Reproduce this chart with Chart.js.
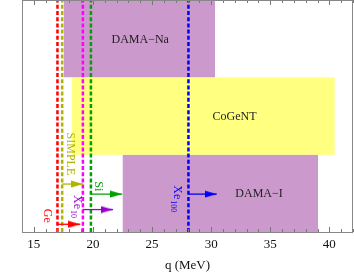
<!DOCTYPE html>
<html>
<head>
<meta charset="utf-8">
<script src="https://cdn.jsdelivr.net/npm/chart.js@4"></script>
<style>
  html, body { margin: 0; padding: 0; background: #fff; }
  #wrap { width: 354px; height: 273px; }
</style>
</head>
<body>
<div id="wrap"><canvas id="chart"></canvas></div>
<script>
// x range and tick labels
const qRange = [14, 42]
const xTickValues = [15, 20, 25, 30, 35, 40]

// shaded regions
const regionNames = ['DAMA\u2212Na', 'CoGeNT', 'DAMA\u2212I']
const regionLow = [17.52, 18.2, 22.5]
const regionHigh = [30.33, 40.46, 39.05]
const regionBottom = [2, 1, 0]
const regionTop = [3, 2, 1]
const regionLabelQ = [24.0, 31.98, 34.05]
const regionLabelY = [2.48, 1.49, 0.49]

// experimental limits (vertical dashed lines + arrows)
const limitNames = ['Ge', 'SIMPLE', 'Xe', 'Si', 'Xe']
const limitSubs = ['', '', '10', '', '100']
const limitQ = [17.0, 17.4, 19.15, 19.83, 28.08]
const arrowEnd = [18.93, 19.18, 21.7, 22.47, 30.47]
const arrowY = [0.1, 0.62, 0.29, 0.49, 0.49]
const limitLabelQ = [16.14, 18.11, 18.67, 20.45, 27.12]
const limitLabelY = [0.21, 1.01, 0.33, 0.59, 0.43]

const regionColors = ['#cc99cc', '#ffff80', '#cc99cc']
const lineColors = ['#ff0000', '#b4b400', '#ff00ff', '#00a000', '#0000ff']
const arrowColors = ['#ff0000', '#b4b400', '#9900cc', '#00a000', '#0000ff']
const serif = "'Liberation Serif', 'DejaVu Serif', serif"

// arrow head image, tip sits at the canvas centre
function makeHead(color) {
  const c = document.createElement('canvas')
  c.width = 24
  c.height = 8
  const g = c.getContext('2d')
  g.fillStyle = color
  g.beginPath()
  g.moveTo(0, 0.5)
  g.lineTo(12, 4)
  g.lineTo(0, 7.5)
  g.closePath()
  g.fill()
  return c
}

const datasets = []

regionNames.forEach((name, i) => {
  datasets.push({
    label: name,
    data: [{ x: regionLow[i], y: regionTop[i] }, { x: regionHigh[i], y: regionTop[i] }],
    showLine: true,
    fill: { value: regionBottom[i] },
    backgroundColor: regionColors[i],
    borderWidth: 0,
    pointRadius: 0,
    order: 10
  })
})

limitNames.forEach((name, i) => {
  datasets.push({
    label: name + limitSubs[i],
    data: [{ x: limitQ[i], y: 0 }, { x: limitQ[i], y: 3 }],
    showLine: true,
    borderColor: lineColors[i],
    borderWidth: 2.5,
    borderDash: [4, 2.2],
    pointRadius: 0,
    order: 2
  })
  datasets.push({
    label: name + limitSubs[i] + ' arrow',
    data: [{ x: limitQ[i], y: arrowY[i] }, { x: arrowEnd[i], y: arrowY[i] }],
    showLine: true,
    borderColor: arrowColors[i],
    borderWidth: 1.3,
    pointRadius: [0, 5],
    pointStyle: makeHead(arrowColors[i]),
    order: 1
  })
})

// frame, inner tick marks and text labels
const decorations = {
  id: 'decorations',
  afterDatasetsDraw(chart) {
    const { ctx, chartArea: a, scales: { x, y } } = chart
    ctx.save()

    // ticks on top and bottom, pointing inward
    ctx.strokeStyle = '#777'
    ctx.lineWidth = 1
    for (let q = Math.ceil(qRange[0]); q <= qRange[1]; q++) {
      const px = Math.round(x.getPixelForValue(q)) + 0.5
      const len = q % 5 === 0 ? 5 : 3
      ctx.beginPath()
      ctx.moveTo(px, a.bottom)
      ctx.lineTo(px, a.bottom - len)
      ctx.moveTo(px, a.top)
      ctx.lineTo(px, a.top + len)
      ctx.stroke()
    }
    ctx.strokeStyle = '#888'
    ctx.strokeRect(a.left + 0.5, a.top + 0.5, a.right - a.left - 1, a.bottom - a.top)

    // region names
    ctx.font = '12px ' + serif
    ctx.fillStyle = '#222'
    ctx.textAlign = 'center'
    ctx.textBaseline = 'middle'
    regionNames.forEach((name, i) => {
      ctx.fillText(name, x.getPixelForValue(regionLabelQ[i]), y.getPixelForValue(regionLabelY[i]))
    })

    // rotated limit labels, reading top to bottom
    limitNames.forEach((name, i) => {
      ctx.save()
      ctx.translate(x.getPixelForValue(limitLabelQ[i]), y.getPixelForValue(limitLabelY[i]))
      ctx.rotate(Math.PI / 2)
      ctx.fillStyle = arrowColors[i]
      ctx.font = '12px ' + serif
      const w1 = ctx.measureText(name).width
      ctx.font = '8px ' + serif
      const w2 = limitSubs[i] ? ctx.measureText(limitSubs[i]).width + 1 : 0
      const start = -(w1 + w2) / 2
      ctx.textAlign = 'left'
      ctx.textBaseline = 'middle'
      ctx.font = '12px ' + serif
      ctx.fillText(name, start, 0)
      if (limitSubs[i]) {
        ctx.font = '8px ' + serif
        ctx.fillText(limitSubs[i], start + w1 + 1, 4)
      }
      ctx.restore()
    })

    ctx.restore()
  }
}

new Chart(document.getElementById('chart'), {
  type: 'scatter',
  data: { datasets },
  options: {
    responsive: true,
    maintainAspectRatio: false,
    animation: false,
    layout: { autoPadding: false, padding: { left: 22, right: 1, top: 0, bottom: 0 } },
    plugins: {
      legend: { display: false },
      tooltip: { enabled: false },
      filler: { propagate: false }
    },
    scales: {
      x: {
        type: 'linear',
        min: qRange[0],
        max: qRange[1],
        afterBuildTicks: s => { s.ticks = xTickValues.map(v => ({ value: v })) },
        afterFit: s => {
          s.height = 41
          s.paddingLeft = 0
          s.paddingRight = 0
          s.paddingTop = 0
          s.paddingBottom = 0
        },
        grid: { display: false, drawTicks: false },
        border: { display: false },
        ticks: {
          autoSkip: false,
          maxRotation: 0,
          padding: 5,
          color: '#111',
          font: { family: serif, size: 13 }
        },
        title: {
          display: true,
          text: 'q (MeV)',
          color: '#111',
          padding: { top: 2, bottom: 0 },
          font: { family: serif, size: 13 }
        }
      },
      y: {
        display: false,
        min: 0,
        max: 3
      }
    }
  },
  plugins: [decorations]
})
</script>
</body>
</html>
